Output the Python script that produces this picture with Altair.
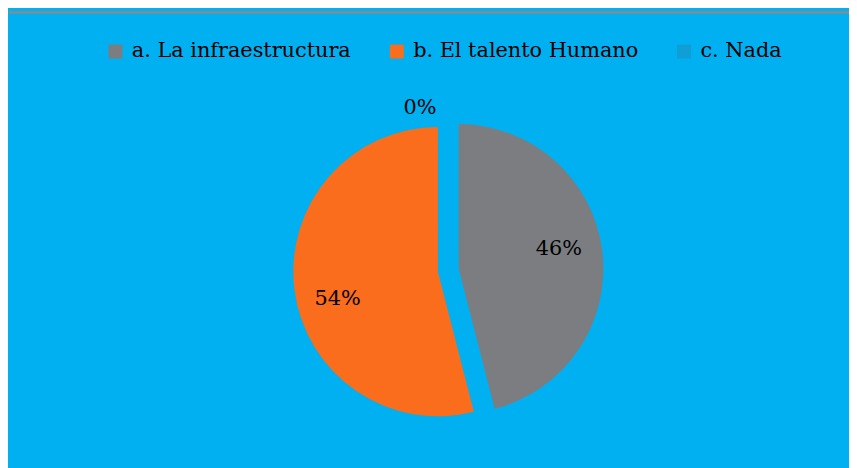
import altair as alt
import pandas as pd

categories = ["a. La infraestructura", "b. El talento Humano", "c. Nada"]
values = [46, 54, 0]
labels = ["46%", "54%", "0%"]
colors = ["#7C7D80", "#F96D1D", "#0F9ED5"]
order = [0, 1, 2]

df = pd.DataFrame({"cat": categories, "value": values, "label": labels, "order": order})

FONT = "DejaVu Serif"
R = 146

color_enc = alt.Color(
    "cat:N",
    scale=alt.Scale(domain=categories, range=colors),
    sort=categories,
    legend=alt.Legend(
        title=None,
        orient="none",
        direction="horizontal",
        columns=3,
        legendX=97,
        legendY=31,
        padding=0,
        symbolType="square",
        symbolSize=196,
        symbolStrokeWidth=0,
        symbolOpacity=1,
        labelFont=FONT,
        labelFontSize=21,
        labelColor="#000000",
        labelOffset=6,
        labelLimit=400,
        columnPadding=35,
    ),
)

base = alt.Chart(df).transform_stack(
    stack="value", groupby=[], as_=["start", "end"], sort=[alt.SortField("order")]
).transform_calculate(mid="(datum.start + datum.end) / 2")

theta_scale = alt.Scale(domain=[0, 100])


def slice_layers(cat, cx, cy, lr, dx, dy):
    b = base.transform_filter(alt.datum.cat == cat)
    arc = b.mark_arc(radius=R, strokeWidth=0).encode(
        theta=alt.Theta("start:Q", scale=theta_scale, stack=None),
        theta2="end:Q",
        color=color_enc,
        x=alt.value(cx),
        y=alt.value(cy),
    )
    txt = b.mark_text(
        radius=lr, font=FONT, fontSize=21, color="#000000", dx=dx, dy=dy,
        align="center", baseline="middle",
    ).encode(
        theta=alt.Theta("mid:Q", scale=theta_scale, stack=None),
        text="label:N",
        x=alt.value(cx),
        y=alt.value(cy),
    )
    return [arc, txt]


layers = []
layers += slice_layers(categories[0], 454, 261, 103, -1, -7)
layers += slice_layers(categories[1], 433, 264, 103, 1, 15)
layers += slice_layers(categories[2], 443, 262, 165, -28, 2)

border = alt.Chart(df).mark_rule(color="#8A8A8A", strokeWidth=2).encode(
    x=alt.value(0), x2=alt.value(849), y=alt.value(2)
)

chart = alt.layer(border, *layers).properties(
    width=849,
    height=460,
    background="#00B0F0",
    padding=0,
    autosize=alt.AutoSizeParams(type="fit", contains="padding"),
).configure_view(stroke=None)

chart.save("out.html", embed_options={"renderer": "svg", "actions": False})
